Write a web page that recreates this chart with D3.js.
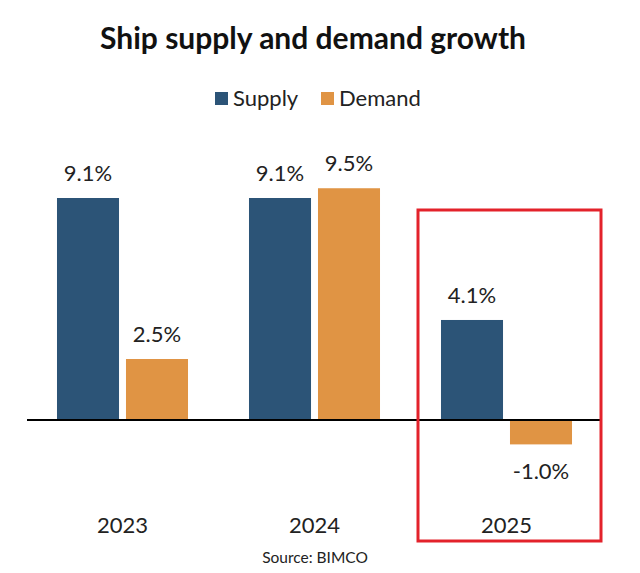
<!DOCTYPE html>
<html>
<head>
<meta charset="utf-8">
<script src="https://cdn.jsdelivr.net/npm/d3@7"></script>
<style>
  html, body { margin: 0; padding: 0; background: #fff; }
  svg { display: block; font-family: Lato, "Open Sans", sans-serif; }
</style>
</head>
<body>
<svg id="chart" width="640" height="573"></svg>
<script>
const years = ["2023", "2024", "2025"];
const seriesNames = ["Supply", "Demand"];
const supply = [9.1, 9.1, 4.1];
const demand = [2.5, 9.5, -1.0];
const valueLabels = {
  Supply: ["9.1%", "9.1%", "4.1%"],
  Demand: ["2.5%", "9.5%", "-1.0%"]
};
const colors = { Supply: "#2c5477", Demand: "#e09444" };

const svg = d3.select("#chart");

const x = d3.scaleBand().domain(years).range([26.5, 602.5]).paddingInner(0).paddingOuter(0);
const xs = d3.scaleBand().domain(seriesNames).range([0, x.bandwidth()]).paddingInner(0.101).paddingOuter(0.442);
const y = d3.scaleLinear().domain([0, 9.1]).range([420, 198]);

const rows = years.map((yr, i) => ({ year: yr, values: [
  { key: "Supply", v: supply[i], label: valueLabels.Supply[i] },
  { key: "Demand", v: demand[i], label: valueLabels.Demand[i] }
]}));

// Title
svg.append("text").attr("x", 313).attr("y", 49).attr("text-anchor", "middle")
  .attr("font-size", 30).attr("font-weight", 700).attr("fill", "#111")
  .text("Ship supply and demand growth");

// Legend
const legend = svg.append("g");
const legItems = [{ key: "Supply", x: 215 }, { key: "Demand", x: 321 }];
legItems.forEach(d => {
  legend.append("rect").attr("x", d.x).attr("y", 92).attr("width", 13).attr("height", 13).attr("fill", colors[d.key]);
  legend.append("text").attr("x", d.x + 18).attr("y", 106).attr("font-size", 22).attr("fill", "#222").text(d.key);
});

// Bars
const g = svg.append("g");
const groups = g.selectAll("g.year").data(rows).join("g").attr("class", "year")
  .attr("transform", d => `translate(${x(d.year)},0)`);

groups.selectAll("rect").data(d => d.values).join("rect")
  .attr("x", d => xs(d.key))
  .attr("width", xs.bandwidth())
  .attr("y", d => y(Math.max(0, d.v)))
  .attr("height", d => Math.abs(y(d.v) - y(0)))
  .attr("fill", d => colors[d.key]);

groups.selectAll("text.val").data(d => d.values).join("text").attr("class", "val")
  .attr("x", d => xs(d.key) + xs.bandwidth() / 2)
  .attr("y", d => d.v >= 0 ? y(d.v) - 17 : y(d.v) + 35)
  .attr("text-anchor", "middle").attr("font-size", 22).attr("fill", "#222")
  .text(d => d.label);

// Zero line
svg.append("line").attr("x1", 27).attr("x2", 600).attr("y1", y(0)).attr("y2", y(0))
  .attr("stroke", "#000").attr("stroke-width", 2);

// Category labels
svg.append("g").selectAll("text").data(years).join("text")
  .attr("x", d => x(d) + x.bandwidth() / 2)
  .attr("y", 533).attr("text-anchor", "middle").attr("font-size", 22).attr("fill", "#222")
  .text(d => d);

// Source
svg.append("text").attr("x", 315).attr("y", 563).attr("text-anchor", "middle")
  .attr("font-size", 15.5).attr("fill", "#222").text("Source: BIMCO");

// Highlight box around 2025
svg.append("rect").attr("x", 418).attr("y", 210).attr("width", 183).attr("height", 331)
  .attr("fill", "none").attr("stroke", "#e3222b").attr("stroke-width", 3);
</script>
</body>
</html>
